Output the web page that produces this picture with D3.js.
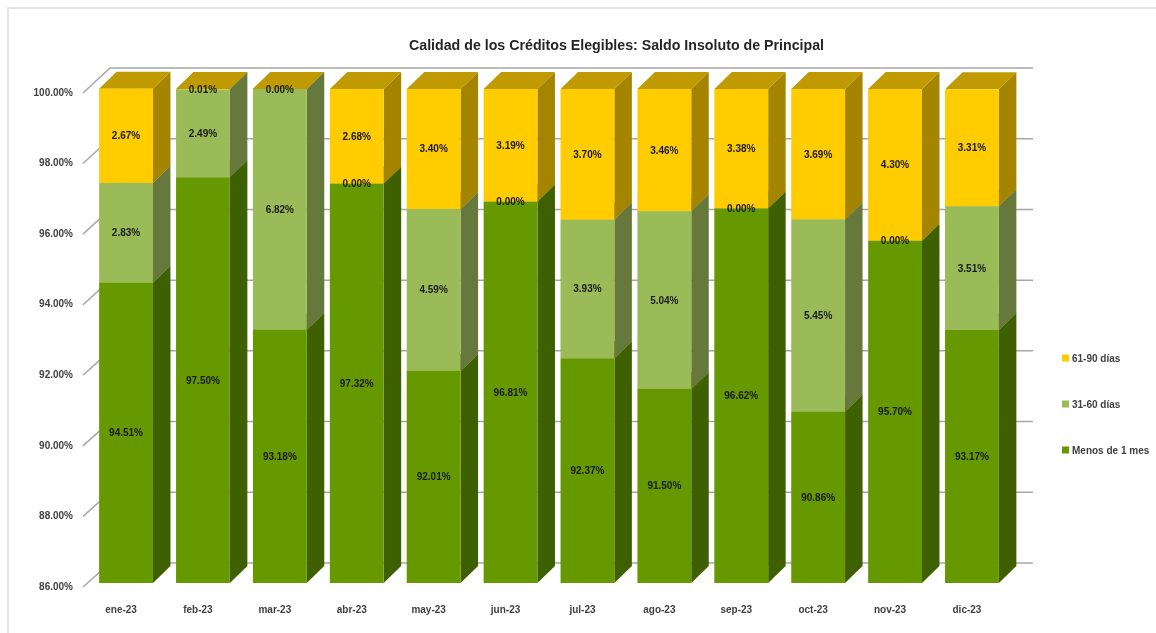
<!DOCTYPE html>
<html lang="es">
<head>
<meta charset="utf-8">
<title>Calidad de los Créditos Elegibles</title>
<style>
  html, body { margin: 0; padding: 0; background: #fff; overflow: hidden; }
  svg { display: block; filter: blur(0.7px); }
  text { font-family: "Liberation Sans", sans-serif; }
</style>
<script src="https://cdn.jsdelivr.net/npm/d3@7"></script>
</head>
<body>
<script>
const months = ["ene-23","feb-23","mar-23","abr-23","may-23","jun-23","jul-23","ago-23","sep-23","oct-23","nov-23","dic-23"];
const menos1Mes = [94.51,97.50,93.18,97.32,92.01,96.81,92.37,91.50,96.62,90.86,95.70,93.17];
const dias31a60 = [2.83,2.49,6.82,0.00,4.59,0.00,3.93,5.04,0.00,5.45,0.00,3.51];
const dias61a90 = [2.67,0.01,0.00,2.68,3.40,3.19,3.70,3.46,3.38,3.69,4.30,3.31];
const yTicks = [86,88,90,92,94,96,98,100];

const seriesNames = ["Menos de 1 mes","31-60 días","61-90 días"];
const seriesValues = [menos1Mes, dias31a60, dias61a90];
const colors = [
  {front: "#669900", side: "#3f6000", top: "#4f7800"},
  {front: "#9bbb59", side: "#66783c", top: "#7d9847"},
  {front: "#ffcc00", side: "#a58500", top: "#bf9a00"}
];

const width = 1156, height = 633;
const depth = {dx: 17.5, dy: 17};

const x = d3.scaleBand().domain(months).range([87.6, 1010.4]).paddingInner(0.3).paddingOuter(0.15);
const yFront = d3.scaleLinear().domain([86,100]).range([583,89]);
const yBack = d3.scaleLinear().domain([86,100]).range([563,68]);

const svg = d3.select("body").append("svg")
  .attr("width", width).attr("height", height)
  .attr("viewBox", [0, 0, width, height]);

// Marco del gráfico
svg.append("path").attr("d", `M8,${height} V8 H${width}`)
  .attr("fill", "none").attr("stroke", "#dcdcdc").attr("stroke-width", 1.5);

svg.append("text").attr("x", 409).attr("y", 50)
  .attr("font-size", 15).attr("font-weight", "bold").attr("fill", "#262626")
  .attr("textLength", 415).attr("lengthAdjust", "spacingAndGlyphs")
  .text("Calidad de los Créditos Elegibles: Saldo Insoluto de Principal");

// Pared del fondo: líneas de rejilla y diagonales
const grid = svg.append("g").attr("stroke", "#a6a6a6").attr("stroke-width", 1.5).attr("fill", "none");
grid.selectAll("path").data(yTicks).join("path")
  .attr("d", d => `M83,${yFront(d) + 4} L110,${yBack(d)} H1033`);

// Eje Y
svg.append("g").attr("transform", "translate(83,3)")
  .call(d3.axisLeft(yFront).tickValues(yTicks).tickSize(0).tickPadding(10).tickFormat(d => d3.format(".2f")(d) + "%"))
  .call(ax => ax.select(".domain").remove())
  .call(ax => ax.selectAll("text").attr("font-size", 10).attr("fill", "#404040").attr("font-weight", "bold"));

// Eje X
svg.append("g").attr("transform", "translate(-5,610)")
  .call(d3.axisBottom(x).tickSize(0).tickPadding(0))
  .call(ax => ax.select(".domain").remove())
  .call(ax => ax.selectAll("text").attr("font-size", 10).attr("dy", "0.32em").attr("fill", "#404040").attr("font-weight", "bold"));

// Barras apiladas con cara frontal, lateral y superior
const w = x.bandwidth();
const labels = [];
months.forEach((m, i) => {
  const g = svg.append("g");
  const bx = x(m);
  let base = 0;
  seriesValues.forEach((vals, s) => {
    const v = vals[i];
    const lo = Math.max(base, 86), hi = base + v;
    base = hi;
    const y0 = yFront(lo), y1 = yFront(hi);
    const c = colors[s];
    g.append("path").attr("fill", c.side)
      .attr("d", `M${bx + w},${y0} L${bx + w + depth.dx},${y0 - depth.dy} V${y1 - depth.dy} L${bx + w},${y1} Z`);
    g.append("path").attr("fill", c.top)
      .attr("d", `M${bx},${y1} L${bx + depth.dx},${y1 - depth.dy} H${bx + w + depth.dx} L${bx + w},${y1} Z`);
    g.append("rect").attr("x", bx).attr("y", y1).attr("width", w).attr("height", y0 - y1).attr("fill", c.front);
    labels.push({x: bx + w / 2, y: (y0 + y1) / 2, v});
  });
});

// Etiquetas de datos encima de todas las caras
svg.append("g").selectAll("text").data(labels).join("text")
  .attr("x", d => d.x).attr("y", d => d.y).attr("dy", "0.35em")
  .attr("text-anchor", "middle").attr("font-size", 10).attr("font-weight", "bold").attr("fill", "#1a1a1a")
  .text(d => d3.format(".2f")(d.v) + "%");

// Leyenda
const legendY = d3.scalePoint().domain(seriesNames).range([450,358]);
const legend = svg.append("g").selectAll("g").data(seriesNames).join("g")
  .attr("transform", d => `translate(1062,${legendY(d)})`);
legend.append("rect").attr("y", -3.5).attr("width", 7).attr("height", 7)
  .attr("fill", (d, i) => colors[i].front);
legend.append("text").attr("x", 10).attr("dy", "0.35em")
  .attr("font-size", 10).attr("font-weight", "bold").attr("fill", "#404040").text(d => d);
</script>
</body>
</html>
